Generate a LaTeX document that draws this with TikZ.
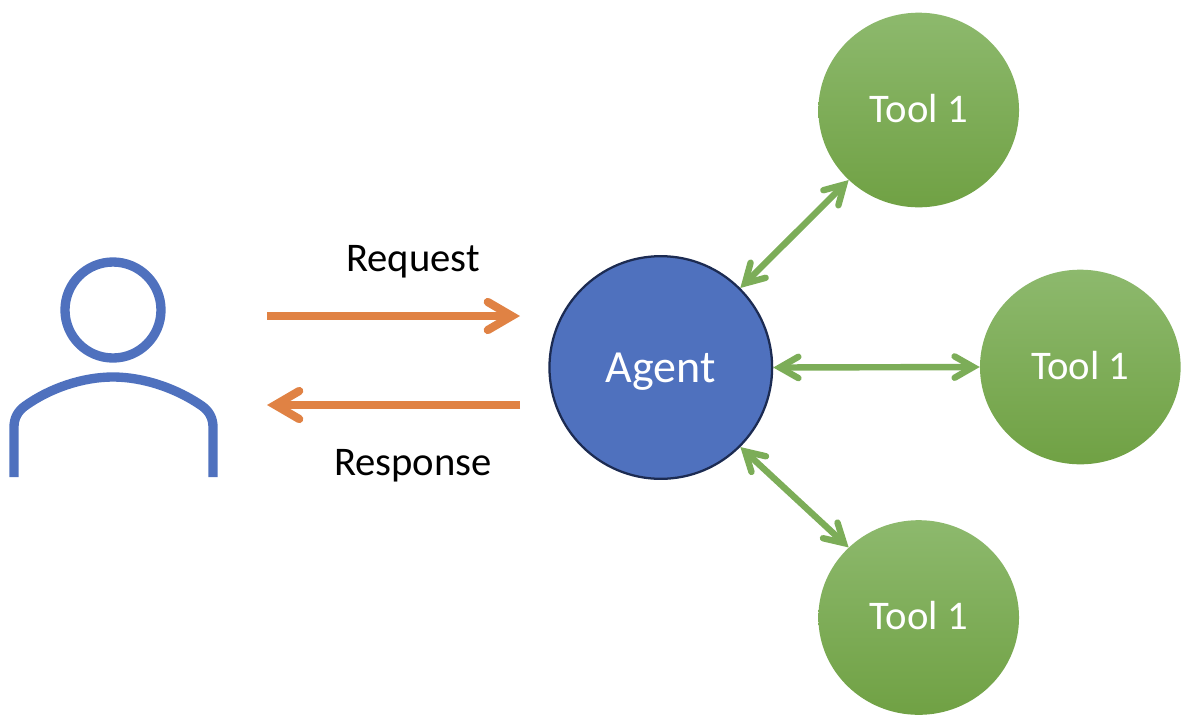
\documentclass[tikz,border=0pt]{standalone}
\usepackage{fontspec}
\setmainfont{Carlito}
\usepackage{tikz}
\usetikzlibrary{arrows.meta,shapes.geometric}
\definecolor{userblue}{HTML}{4F71BE}
\definecolor{agentedge}{HTML}{1C2B52}
\definecolor{reqorange}{HTML}{E08244}
\definecolor{toolgreen}{HTML}{7CAD58}
\definecolor{tooltop}{HTML}{8DB96D}
\definecolor{toolbot}{HTML}{70A144}

\begin{document}
\begin{tikzpicture}[x=0.75pt,y=-0.75pt,
    agent/.style={circle,draw=agentedge,line width=1.7pt,fill=userblue,text=white,minimum size=167pt,inner sep=0pt,text depth=0pt,font=\fontsize{34.5pt}{40pt}\selectfont},
    tool/.style={ellipse,top color=tooltop,bottom color=toolbot,text=white,minimum width=150.5pt,minimum height=146pt,inner sep=0pt,text height=18pt,text depth=0pt,font=\fontsize{30.5pt}{36pt}\selectfont},
    msg/.style={font=\fontsize{30.5pt}{36pt}\selectfont,text=black,inner sep=0pt,text depth=0pt},
    orangearrow/.style={draw=reqorange,line width=6.2pt,-{Straight Barb[length=18pt,width=21pt,line cap=round,line join=miter,line width=6.2pt]}},
    greenarrow/.style={draw=toolgreen,line width=4.8pt,{Straight Barb[length=14pt,width=16pt,line cap=round,line join=miter,line width=4.8pt]}-{Straight Barb[length=14pt,width=16pt,line cap=round,line join=miter,line width=4.8pt]}},
    person/.style={draw=userblue,line width=7pt}]
\useasboundingbox (0,0) rectangle (1196,722);

\node[agent] (agent) at (660.8,367.5) {Agent};
\node[tool] (tool1) at (918.7,110) {Tool 1};
\node[tool] (tool2) at (1080.3,367) {Tool 1};
\node[tool] (tool3) at (918.7,617.5) {Tool 1};

\draw[greenarrow] (agent.45) -- (tool1.225);
\draw[greenarrow] (agent.east) -- (tool2.west);
\draw[greenarrow] (agent.-45) -- (tool3.135);

% user icon
\node[circle,person,minimum size=72pt,inner sep=0pt] (head) at (113,310) {};
\draw[person] (14,477) -- (14,427) .. controls (14,418) and (18,411) .. (25,406)
    .. controls (50,388) and (83,377) .. (113,377)
    .. controls (143,377) and (176,388) .. (202,406)
    .. controls (209,411) and (213,418) .. (213,427) -- (213,477);

\coordinate (reqstart) at (267,316);
\coordinate (reqend) at (520,316);
\coordinate (respstart) at (520,405);
\coordinate (respend) at (267,405);
\draw[orangearrow] (reqstart) -- (reqend);
\draw[orangearrow] (respstart) -- (respend);

\node[msg] (request) at (413,258) {Request};
\node[msg] (response) at (413,462.5) {Response};
\end{tikzpicture}
\end{document}
